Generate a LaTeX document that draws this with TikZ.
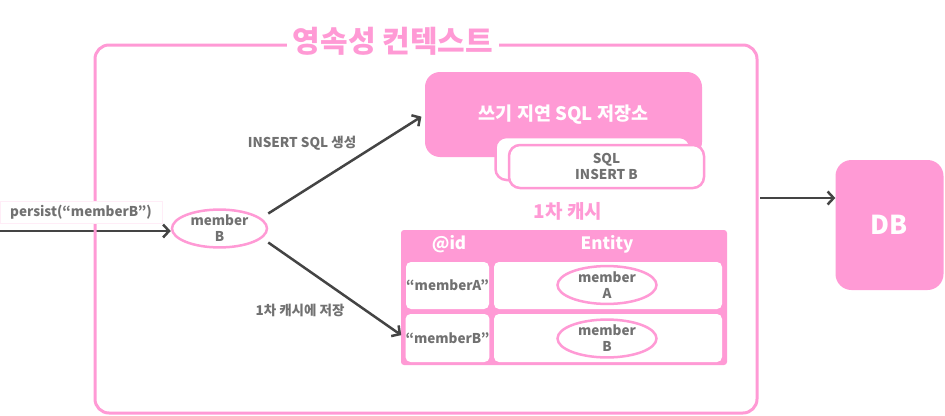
\documentclass[tikz,border=0pt]{standalone}
\usepackage{fontspec}
\setmainfont{Noto Sans CJK KR}
\usetikzlibrary{arrows.meta,positioning,shapes.geometric}
\definecolor{ctxpink}{HTML}{FF9AD5}
\definecolor{txtgray}{HTML}{717171}
\definecolor{arrgray}{HTML}{444444}

\begin{document}
\begin{tikzpicture}[x=1pt, y=-1pt,
  graytxt/.style={text=txtgray, font=\bfseries\fontsize{13.5}{16}\selectfont, align=center},
  pinkfill/.style={fill=ctxpink, text=white, inner sep=0pt},
  card/.style={draw=ctxpink, line width=2.5pt, fill=white, rounded corners=11pt, minimum width=195pt, minimum height=43pt},
  cell/.style={fill=white, rounded corners=5pt, inner sep=0pt, graytxt},
  obj/.style={ellipse, draw=ctxpink, line width=2.5pt, inner sep=0pt, graytxt},
  flow/.style={draw=arrgray, line width=2.5pt, -{Straight Barb[length=6pt,width=13pt]}}]
  \useasboundingbox (0,0) rectangle (945,415);

  % persist 호출
  \coordinate (start) at (0,231);
  \node[obj, minimum width=95pt, minimum height=37pt] (mB) at (219.5,228.5) {member\\B};
  \draw[flow] (start) -- (start -| mB.west);

  % 영속성 컨텍스트
  \node[draw=ctxpink, line width=3pt, rounded corners=14pt, minimum width=662pt, minimum height=368pt] (ctx) at (426,229) {};
  \node[fill=white, inner xsep=6pt, inner ysep=0pt, text=ctxpink, font=\bfseries\fontsize{30}{32}\selectfont] (title) at (393,41) {영속성 컨텍스트};
  \node[graytxt, fill=white, draw=ctxpink!18, minimum width=162pt, minimum height=22pt, inner sep=0pt] (call) at (81,212.5) {persist(“memberB”)};

  % 쓰기 지연 SQL 저장소
  \node[pinkfill, rounded corners=15pt, minimum width=277pt, minimum height=85pt, font=\bfseries\fontsize{18.5}{20}\selectfont] (store) at (563.5,114.5) {쓰기 지연 SQL 저장소\hspace{16pt}};
  \node[card] (back) at (593,158.5) {};
  \node[card, graytxt] (sql) at (606.5,166.5) {SQL\\INSERT B};

  % 1차 캐시
  \node[text=ctxpink, font=\bfseries\fontsize{19}{21}\selectfont] (cachetitle) at (568,211) {1차 캐시};
  \node[pinkfill, rounded corners=3pt, minimum width=326pt, minimum height=135pt] (cache) at (564,297.5) {};
  \node[text=white, font=\bfseries\fontsize{17}{19}\selectfont] (hid) at (449,244) {@id};
  \node[text=white, font=\bfseries\fontsize{17}{19}\selectfont] (hent) at (607,244) {Entity};
  \node[cell, minimum width=83pt, minimum height=47pt] (idA) at (447.5,285.5) {“memberA”};
  \node[cell, minimum width=228pt, minimum height=47pt] (entA) at (608,285.5) {};
  \node[cell, minimum width=83pt, minimum height=48pt] (idB) at (447.5,338) {“memberB”};
  \node[cell, minimum width=228pt, minimum height=48pt] (entB) at (608,338) {};
  \node[obj, minimum width=99pt, minimum height=34pt] (objA) at (607,285) {member\\A};
  \node[obj, minimum width=99pt, minimum height=35pt] (objB) at (607,338.5) {member\\B};

  % 화살표
  \draw[flow, shorten >=4pt] ([yshift=15pt]mB.east) -- (store.west);
  \node[graytxt] (lsql) at (302,143) {INSERT SQL 생성};
  \draw[flow, shorten >=5pt] ([yshift=-14pt]mB.east) -- (idB.west);
  \node[graytxt] (lsave) at (300,310) {1차 캐시에 저장};

  % DB
  \node[pinkfill, rounded corners=16pt, minimum width=108pt, minimum height=130pt, font=\bfseries\fontsize{26}{28}\selectfont] (db) at (889.5,225) {DB};
  \coordinate (sync) at (760,198);
  \draw[flow] (sync) -- (sync -| db.west);
\end{tikzpicture}
\end{document}
